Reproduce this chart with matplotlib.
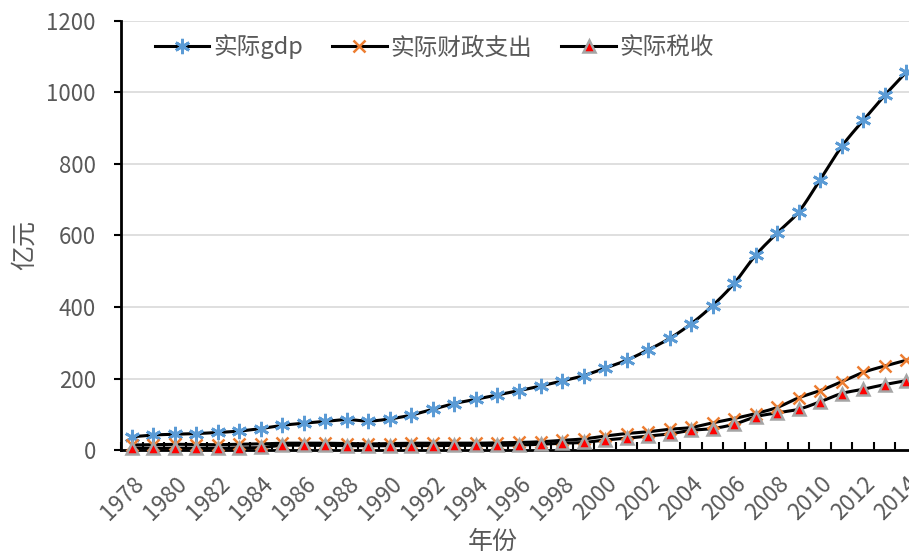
import numpy as np
import matplotlib
matplotlib.use("Agg")
import matplotlib.pyplot as plt
from matplotlib.lines import Line2D

plt.rcParams['font.family'] = ['Noto Sans CJK SC', 'DejaVu Sans']

years = list(range(1978, 2015))
gdp = [37, 42, 44, 46, 49, 53, 60, 69, 75, 80, 85, 81, 87, 98, 114, 130, 142, 154,
       166, 179, 193, 208, 229, 251, 280, 312, 353, 404, 466, 545, 607, 666, 756,
       849, 922, 992, 1057]
expend = [14, 15, 16, 15, 15, 16, 17, 19, 19, 19, 18, 17, 18, 19, 19, 19, 19, 20,
          21, 23, 27, 31, 39, 46, 51, 58, 63, 76, 88, 102, 119, 146, 166, 191, 217,
          235, 251]
tax = [5, 5, 5, 5, 5, 6, 7, 13, 13, 13, 12, 12, 12, 12, 12, 13, 13, 13, 14, 16, 19,
       21, 28, 33, 39, 45, 55, 60, 72, 93, 104, 114, 135, 158, 170, 183, 194]
series_names = ['实际gdp', '实际财政支出', '实际税收']
yticks = [0, 200, 400, 600, 800, 1000, 1200]

GREY = '#595959'


def smooth(xs, ys, n=12):
    xs = np.asarray(xs, float)
    ys = np.asarray(ys, float)
    px = np.concatenate([[2 * xs[0] - xs[1]], xs, [2 * xs[-1] - xs[-2]]])
    py = np.concatenate([[2 * ys[0] - ys[1]], ys, [2 * ys[-1] - ys[-2]]])
    outx, outy = [], []
    for i in range(1, len(px) - 2):
        t = np.linspace(0, 1, n, endpoint=False)
        for arr, out in ((px, outx), (py, outy)):
            p0, p1, p2, p3 = arr[i - 1], arr[i], arr[i + 1], arr[i + 2]
            out.extend(0.5 * ((2 * p1) + (-p0 + p2) * t +
                              (2 * p0 - 5 * p1 + 4 * p2 - p3) * t ** 2 +
                              (-p0 + 3 * p1 - 3 * p2 + p3) * t ** 3))
    outx.append(xs[-1])
    outy.append(ys[-1])
    return np.array(outx), np.array(outy)


fig = plt.figure(figsize=(9.09, 5.55), dpi=100)
ax = fig.add_axes([121 / 909, 105 / 555, (917 - 121) / 909, (534 - 105) / 555])

x = np.arange(len(years))

styles = [
    dict(marker=(6, 2, 0), ms=11, mec='#5B9BD5', mfc='#5B9BD5', mew=2.0),
    dict(marker='x', ms=9, mec='#ED7D31', mfc='#ED7D31', mew=1.8),
    dict(marker='^', ms=9, mec='#A5A5A5', mfc='#FF0000', mew=1.8),
]
data = [gdp, expend, tax]

for vals, st in zip(data, styles):
    sx, sy = smooth(x, vals)
    ax.plot(sx, sy, color='black', lw=2.2, zorder=3, clip_on=False)
for vals, st in zip(data, styles):
    ax.plot(x, vals, ls='none', zorder=4, clip_on=False, **st)

ax.set_xlim(-0.5, len(years) - 0.5)
ax.set_ylim(0, 1200)
ax.set_yticks(yticks)
ax.set_yticklabels([str(v) for v in yticks])

ax.set_xticks(np.arange(-0.5, len(years), 1))
ax.set_xticklabels([])
ax.tick_params(axis='x', which='major', direction='in', length=6, width=1.5,
               color='black')
ax.set_xticks(x[::2], minor=True)
ax.set_xticklabels([str(y) for y in years[::2]], minor=True, rotation=45,
                   ha='right', rotation_mode='anchor')
ax.tick_params(axis='x', which='minor', length=0, pad=16, labelsize=16.5,
               labelcolor=GREY)
ax.tick_params(axis='y', direction='out', length=5, width=1.5, pad=13,
               labelsize=16, labelcolor=GREY)

ax.grid(axis='y', color='#D9D9D9', lw=1.2, zorder=0)
ax.set_axisbelow(True)
for s in ['top', 'right']:
    ax.spines[s].set_visible(False)
for s in ['left', 'bottom']:
    ax.spines[s].set_linewidth(2)
    ax.spines[s].set_color('black')

fig.text(493 / 909, 1 - 542 / 555, '年份', ha='center', va='center',
         fontsize=18, color=GREY)
fig.text(25 / 909, 1 - 245 / 555, '亿元', ha='center', va='center',
         fontsize=18, color=GREY, rotation=90)

handles = [Line2D([0], [0], color='black', lw=2.2, **st) for st in styles]
fig.legend(handles, series_names, loc='center left',
           bbox_to_anchor=(155 / 909, 1 - 47 / 555), ncol=3, frameon=False,
           fontsize=17, labelcolor=GREY, handlelength=2.3, handletextpad=0.15,
           columnspacing=1.25, borderpad=0, borderaxespad=0)

fig.savefig('out.png', dpi=100)
